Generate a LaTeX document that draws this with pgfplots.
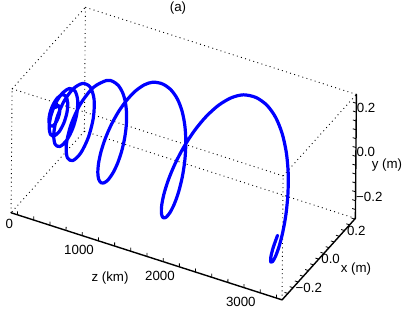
\documentclass[border=0pt]{standalone}
\usepackage{fontspec}
\setmainfont{Liberation Sans}
\usepackage{pgfplots}
\pgfplotsset{compat=1.18}
\definecolor{curveblue}{RGB}{0,0,255}
\begin{document}
\fontsize{13.3bp}{15bp}\selectfont
\begin{tikzpicture}
\begin{axis}[
  x={(0.0809bp,-0.026bp)}, y={(128.6bp,142.9bp)}, z={(1.79bp,221.4bp)},
  xmin=-80, xmax=3270, ymin=-0.285, ymax=0.285, zmin=-0.28, zmax=0.28,
  axis line style={draw=none},
  xtick={0,1000,2000,3000}, xticklabels={0,1000,2000,3000},
  ytick={-0.2,0,0.2}, yticklabels={−0.2,0.0,0.2},
  ztick={-0.2,0,0.2}, zticklabels={−0.2,0.0,0.2},
  zticklabel pos=right,
  major tick length=0pt,
  tick style={draw=none},
  xticklabel style={anchor=north east},
  yticklabel style={anchor=west, xshift=-2bp},
  zticklabel style={anchor=west, xshift=-4bp, yshift=4bp},
  xlabel={z (km)}, ylabel={x (m)}, zlabel={y (m)},
  every axis x label/.style={at={(axis cs:698,0,-0.667)}, anchor=center},
  every axis y label/.style={at={(axis cs:3730,0,-0.2706)}, anchor=center},
  every axis z label/.style={at={(axis cs:4102,0,0.2428)}, anchor=center},
  title={(a)},
  every axis title shift=0pt,
  title style={at={(axis cs:1510,0,0.6475)}, anchor=center},
  clip=false,
]
% box edges (dotted)
\draw[black, line width=0.9bp, dash pattern=on 0.9bp off 3.4bp]
  (axis cs:-80,-0.285,-0.28) -- (axis cs:-80,-0.285,0.28)
  (axis cs:-80,-0.285,0.28) -- (axis cs:-80,0.285,0.28)
  (axis cs:-80,0.285,0.28) -- (axis cs:-80,0.285,-0.28)
  (axis cs:-80,0.285,-0.28) -- (axis cs:-80,-0.285,-0.28)
  (axis cs:-80,-0.285,0.28) -- (axis cs:3270,-0.285,0.28)
  (axis cs:3270,-0.285,0.28) -- (axis cs:3270,0.285,0.28)
  (axis cs:-80,0.285,0.28) -- (axis cs:3270,0.285,0.28)
  (axis cs:-80,0.285,-0.28) -- (axis cs:3270,0.285,-0.28)
  (axis cs:3270,-0.285,-0.28) -- (axis cs:3270,-0.285,0.28);
\addplot3[curveblue, line width=3.2bp, smooth, line join=round, line cap=round] coordinates {
(0.5,0.0085,0.0147)
(2.5,0.0251,0.0145)
(4.6,0.0355,0)
(6.8,0.0352,-0.0203)
(9.2,0.0224,-0.0388)
(11.7,0,-0.0485)
(14.4,-0.0260,-0.0450)
(17.2,-0.0478,-0.0276)
(20.2,-0.0582,0)
(23.3,-0.0529,0.0306)
(26.7,-0.0320,0.0553)
(30.2,0,0.0666)
(34.0,0.0346,0.0599)
(38.0,0.0622,0.0359)
(42.2,0.0744,0)
(46.7,0.0667,-0.0385)
(51.4,0.0398,-0.0688)
(56.4,0,-0.0820)
(61.8,-0.0423,-0.0732)
(67.4,-0.0753,-0.0435)
(73.4,-0.0895,0)
(79.7,-0.0797,0.0460)
(86.4,-0.0473,0.0818)
(93.5,0,0.0970)
(101.0,0.0498,0.0862)
(109.0,0.0884,0.0511)
(117.4,0.1046,0)
(126.4,0.0928,-0.0536)
(135.8,0.0549,-0.0951)
(145.9,0,-0.1125)
(156.5,-0.0576,-0.0998)
(167.8,-0.1021,-0.0590)
(179.7,-0.1206,0)
(192.4,-0.1069,0.0617)
(205.8,-0.0631,0.1093)
(220.0,0,0.1290)
(235.0,0.0660,0.1142)
(250.9,0.1167,0.0674)
(267.8,0.1378,0)
(285.7,0.1218,-0.0704)
(304.7,0.0719,-0.1245)
(324.7,0,-0.1469)
(346.0,-0.0750,-0.1299)
(368.6,-0.1327,-0.0766)
(392.4,-0.1565,0)
(417.7,-0.1383,0.0799)
(444.5,-0.0816,0.1412)
(472.9,0,0.1665)
(503.0,0.0850,0.1472)
(525.3,0.1214,0.1214)
(547.7,0.1503,0.0868)
(570.0,0.1692,0.0453)
(592.3,0.1770,0)
(614.7,0.1727,-0.0463)
(637.0,0.1565,-0.0904)
(659.3,0.1290,-0.1290)
(681.7,0.0922,-0.1597)
(704.0,0.0482,-0.1800)
(726.3,0,-0.1881)
(748.7,-0.0492,-0.1835)
(771.0,-0.0960,-0.1663)
(793.3,-0.1371,-0.1371)
(815.7,-0.1697,-0.0980)
(838.0,-0.1912,-0.0512)
(860.3,-0.1998,0)
(882.7,-0.1950,0.0523)
(905.0,-0.1766,0.1020)
(927.3,-0.1456,0.1456)
(949.7,-0.1040,0.1801)
(972.0,-0.0544,0.2029)
(994.3,0,0.2122)
(1016.7,0.0555,0.2070)
(1039.0,0.1082,0.1874)
(1083.7,0.1546,0.1546)
(1128.3,0.1912,0.1104)
(1173.0,0.2154,0.0577)
(1217.7,0.2252,0)
(1262.3,0.2196,-0.0589)
(1307.0,0.1989,-0.1149)
(1351.7,0.1640,-0.1640)
(1396.3,0.1172,-0.2029)
(1441.0,0.0612,-0.2285)
(1485.7,0,-0.2390)
(1530.3,-0.0625,-0.2331)
(1575.0,-0.1219,-0.2111)
(1619.7,-0.1740,-0.1740)
(1664.3,-0.2152,-0.1243)
(1709.0,-0.2424,-0.0650)
(1753.7,-0.2535,0)
(1798.3,-0.2473,0.0663)
(1843.0,-0.2239,0.1293)
(1887.7,-0.1846,0.1846)
(1932.3,-0.1318,0.2283)
(1977.0,-0.0689,0.2571)
(2021.7,0,0.2688)
(2066.3,0.0702,0.2622)
(2111.0,0.1371,0.2374)
(2174,0.1952,0.1952)
(2238,0.2403,0.1388)
(2303,0.2690,0.0721)
(2369,0.2790,0)
(2436,0.2700,-0.0723)
(2504,0.2425,-0.1400)
(2572,0.1980,-0.1980)
(2641,0.1400,-0.2425)
(2710,0.0725,-0.2705)
(2780,0,-0.2800)
(2850,-0.0725,-0.2705)
(2920,-0.1400,-0.2425)
(2990,-0.1980,-0.1980)
(3060,-0.2425,-0.1400)
(3130,-0.2705,-0.0725)
(3200,-0.2800,0)
};
% tick marks on the three solid axes
\pgfplotsinvokeforeach{0,200,400,600,800,1000,1200,1400,1600,1800,2000,2200,2400,2600,2800,3000,3200}{
  \draw[black, line width=0.8bp] (axis cs:#1,-0.285,-0.28) -- (axis cs:#1,-0.285,-0.264);
}
\pgfplotsinvokeforeach{-0.24,-0.2,-0.16,-0.12,-0.08,-0.04,0,0.04,0.08,0.12,0.16,0.2,0.24,0.28}{
  \draw[black, line width=0.8bp] (axis cs:3270,#1,-0.28) -- (axis cs:3229,#1,-0.28);
}
\pgfplotsinvokeforeach{-0.24,-0.2,-0.16,-0.12,-0.08,-0.04,0,0.04,0.08,0.12,0.16,0.2,0.24}{
  \draw[black, line width=0.8bp] (axis cs:3270,0.285,#1) -- (axis cs:3229,0.285,#1);
}
% solid axes
\draw[black, line width=1.4bp, line cap=round, line join=round]
  (axis cs:-80,-0.285,-0.28) -- (axis cs:3270,-0.285,-0.28)
  -- (axis cs:3270,0.285,-0.28) -- (axis cs:3270,0.285,0.28);
\coordinate (bbl) at (axis cs:-654.1,0,-0.9978);
\coordinate (btr) at (axis cs:4357,0,1.018);
\end{axis}
\pgfresetboundingbox
\path[use as bounding box] (bbl) rectangle (btr);
\end{tikzpicture}
\end{document}
